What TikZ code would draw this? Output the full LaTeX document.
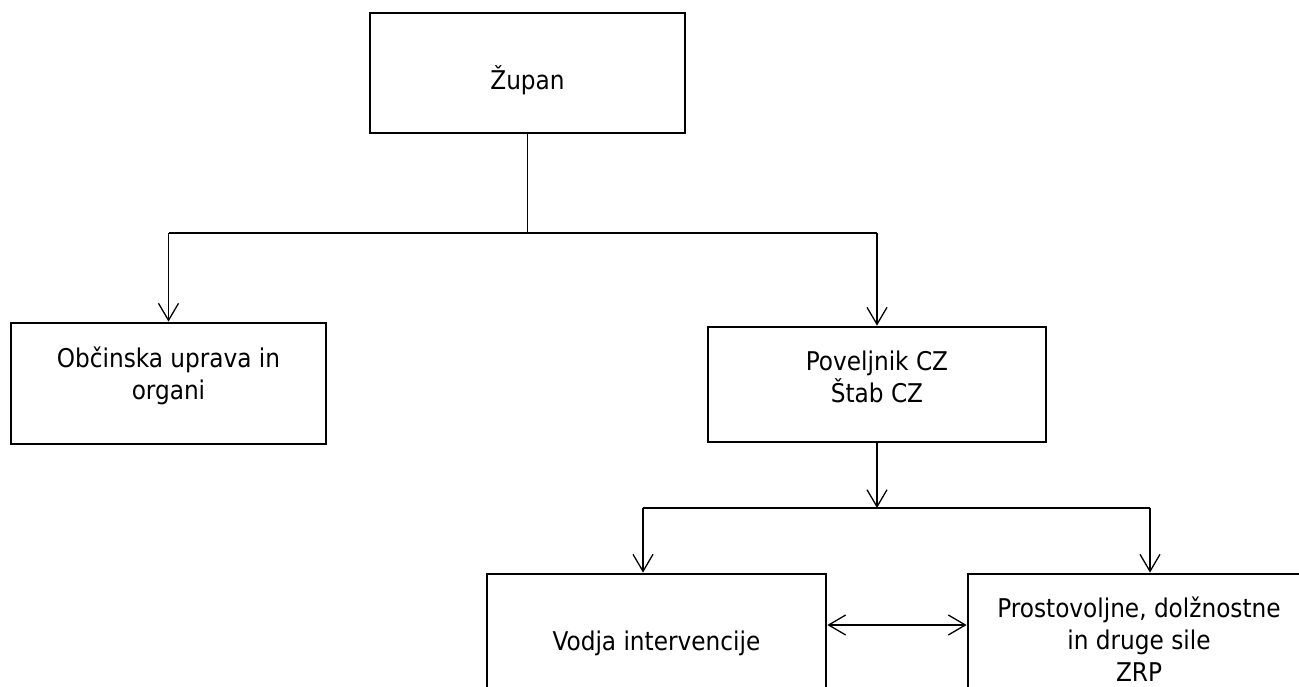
\documentclass[tikz,border=0pt]{standalone}
\usepackage{fontspec}
\setmainfont{DejaVu Sans Condensed}
\usetikzlibrary{arrows.meta}
\tikzset{
  unit/.style={draw=black, line width=2.8pt, align=center, inner sep=0pt,
    font=\fontsize{25.8}{32}\selectfont},
  link/.style={line width=1.3pt},
  arr/.style={link, -{Straight Barb[length=17pt,width=20pt]}},
  darr/.style={link, {Straight Barb[length=17pt,width=20pt]}-{Straight Barb[length=17pt,width=20pt]}}
}
\begin{document}
\begin{tikzpicture}[x=1pt,y=-1pt]
\useasboundingbox (0,0) rectangle (1299,686);
\clip (0,0) rectangle (1299,686);
% boxes
\node[unit, minimum width=315pt, minimum height=120pt, text height=38pt, text depth=5pt] (zupan) at (527.5,73) {Župan};
\node[unit, minimum width=315pt, minimum height=121pt, text height=52pt, text depth=21pt] (obcina) at (168.5,383.5) {Občinska uprava in\\organi};
\node[unit, minimum width=338pt, minimum height=115pt, text height=52pt, text depth=17pt] (povelj) at (877,384.5) {Poveljnik CZ\\Štab CZ};
\node[unit, minimum width=339pt, minimum height=130pt, text height=27pt, text depth=5pt] (vodja) at (656.5,639) {Vodja intervencije};
\node[unit, minimum width=342pt, minimum height=130pt, text height=89pt, text depth=5pt] (sile) at (1139,639) {Prostovoljne, dolžnostne\\in druge sile\\ZRP};
% junctions
\coordinate (top) at (527.5,233);
\coordinate (topl) at (168.5,233);
\coordinate (topr) at (877,233);
\coordinate (mid) at (877,508);
\coordinate (midl) at (643,508);
\coordinate (midr) at (1150,508);
% connectors
\draw[link] (zupan) -- (top);
\draw[link] (topl) -- (topr);
\draw[arr] (topl) -- (obcina);
\draw[arr] (topr) -- (povelj);
\draw[arr] (povelj) -- (mid);
\draw[link] (midl) -- (midr);
\draw[arr] (midl) -- (midl |- vodja.north);
\draw[arr] (midr) -- (midr |- sile.north);
\draw[darr] ([yshift=14pt]vodja.east) -- ([yshift=14pt]vodja.east -| sile.west);
\end{tikzpicture}
\end{document}
